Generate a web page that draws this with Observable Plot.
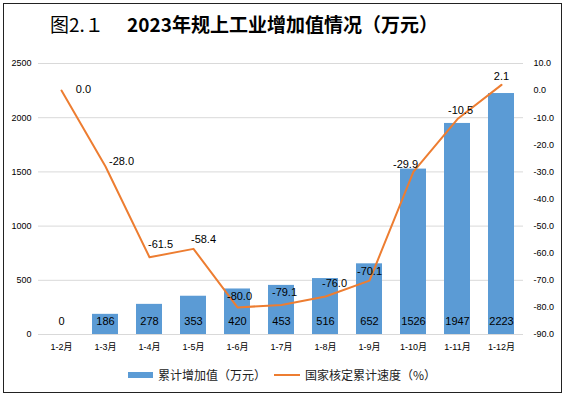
<!DOCTYPE html>
<html><head><meta charset="utf-8">
<script src="https://cdn.jsdelivr.net/npm/d3@7"></script>
<script src="https://cdn.jsdelivr.net/npm/@observablehq/plot@0.6"></script>
<style>
body{margin:0;background:#fff;width:569px;height:398px;position:relative;overflow:hidden;font-family:"Noto Sans CJK SC",sans-serif;}
#frame{position:absolute;left:3px;top:3px;width:559px;height:390px;border:1px solid #222;box-sizing:border-box;}
#title{position:absolute;left:50px;top:13px;font-size:19px;line-height:22px;white-space:pre;color:#000;}
#title b{font-weight:bold;}
#chart{position:absolute;left:0;top:45px;}
.leg{position:absolute;font-size:12px;line-height:14px;color:#222;white-space:nowrap;}
.sw{position:absolute;}
</style></head>
<body>
<div id="frame"></div>
<div id="title">图2.１　 <b>2023年规上工业增加值情况（万元）</b></div>
<div id="chart"></div>
<div class="sw" style="left:128px;top:372px;width:25px;height:6px;background:#5B9BD5"></div>
<div class="leg" style="left:158px;top:368px;">累计增加值（万元）</div>
<div class="sw" style="left:274px;top:374px;width:26px;height:2px;background:#ED7D31"></div>
<div class="leg" style="left:305px;top:368px;">国家核定累计速度（%）</div>
<script>
const months = ["1-2月","1-3月","1-4月","1-5月","1-6月","1-7月","1-8月","1-9月","1-10月","1-11月","1-12月"];
const addedValue = [0,186,278,353,420,453,516,652,1526,1947,2223];
const growthRate = [0.0,-28.0,-61.5,-58.4,-80.0,-79.1,-76.0,-70.1,-29.9,-10.5,2.1];
const leftTicks = [0,500,1000,1500,2000,2500];
const rightTicks = [10,0,-10,-20,-30,-40,-50,-60,-70,-80,-90];

// right axis (-90..10) mapped onto left scale (0..2500)
const toLeft = v => (v + 90) * 25;
const fromLeft = v => v / 25 - 90;

const data = months.map((m,i)=>({m, v:addedValue[i], r:growthRate[i]}));
// label offsets (style) for line data labels
const offs = [[22,-1],[16,-5],[11,-13],[10,-9],[2,-11],[3,-12],[9,-13],[0,-9],[-8,-7],[3,-9],[0,-8]];

const font = '"Liberation Sans","Noto Sans CJK SC",sans-serif';
const lineLabels = data.map((d,i)=>Plot.text([d],{x:"m", y:d=>toLeft(d.r), text:d=>d.r.toFixed(1), dx:offs[i][0], dy:offs[i][1], fontSize:11, fill:"#000"}));

const chart = Plot.plot({
  width:569, height:320,
  marginLeft:38, marginRight:46, marginTop:18, marginBottom:31,
  style:{fontFamily:font, background:"transparent"},
  x:{domain:months, paddingInner:0.41, paddingOuter:0.205, label:null},
  y:{domain:[0,2500], label:null},
  marks:[
    Plot.gridY(leftTicks,{stroke:"#d9d9d9", strokeOpacity:1}),
    Plot.barY(data,{x:"m", y:"v", fill:"#5B9BD5"}),
    Plot.text(data,{x:"m", y:0, text:d=>String(d.v), dy:-13, fontSize:11, fill:"#000"}),
    Plot.lineY(data,{x:"m", y:d=>toLeft(d.r), stroke:"#ED7D31", strokeWidth:2}),
    ...lineLabels,
    Plot.axisY(leftTicks,{anchor:"left", tickSize:0, tickPadding:7, fontSize:9, label:null, tickFormat:d=>String(d)}),
    Plot.axisY(rightTicks.map(toLeft),{anchor:"right", tickSize:0, tickPadding:10, fontSize:9, label:null, tickFormat:d=>fromLeft(d).toFixed(1)}),
    Plot.axisX({tickSize:0, tickPadding:9, fontSize:9, label:null})
  ]
});
document.getElementById("chart").appendChild(chart);
</script>
</body></html>
